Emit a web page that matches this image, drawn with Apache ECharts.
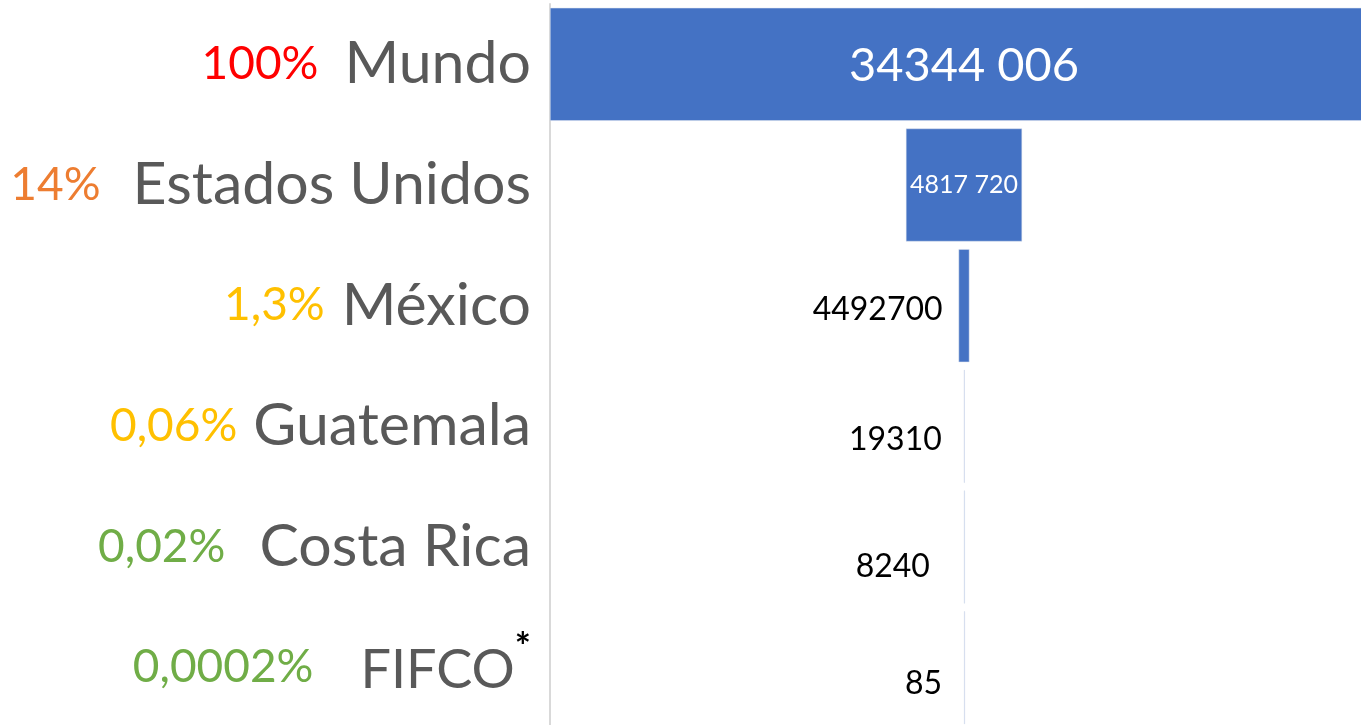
<!DOCTYPE html>
<html>
<head>
<meta charset="utf-8">
<script src="https://cdn.jsdelivr.net/npm/echarts@6/dist/echarts.min.js"></script>
<style>
  html, body { margin: 0; padding: 0; background: #fff; }
  #main { width: 1361px; height: 725px; }
</style>
</head>
<body>
<div id="main"></div>
<script>
// categorias y valores
var paises = ['Mundo', 'Estados Unidos', 'México', 'Guatemala', 'Costa Rica', 'FIFCO'];
var porcentajes = ['100%', '14%', '1,3%', '0,06%', '0,02%', '0,0002%'];
// valores de la barra (México se dibuja al 1,3%)
var valores = [34344006, 4817720, 449270, 19310, 8240, 85];
// texto de las etiquetas tal como aparece
var etiquetas = ['34344 006', '4817 720', '4492700', '19310', '8240', '85'];

var total = valores[0];
var colorPct = ['#ff0000', '#ed7d31', '#ffc000', '#ffc000', '#70ad47', '#70ad47'];
var espacio = [26, 32, 17, 16, 34, 47];
var despl = [0, 0, 4, 13, 20, 16];
var distancia = [0, 0, 16, 22, 34, 22];
var fuente = 'Lato, "Open Sans", sans-serif';

//estilos rich de la etiqueta del eje
var rich = {
  n: { fontSize: 59, color: '#595959', fontFamily: fuente },
  f: { fontSize: 54, color: '#595959', fontFamily: fuente, padding: [6, 0, 0, 0] },
  s: { fontSize: 38, color: '#000', fontFamily: fuente, fontWeight: 'bold', padding: [0, 0, 40, 0] }
};
colorPct.forEach(function (c, i) {
  rich['p' + i] = { fontSize: 46, color: c, fontFamily: fuente, padding: [0, espacio[i], 0, 0] };
});

//base invisible para centrar las barras
var base = valores.map(function (v) { return (total - v) / 2; });
var barras = valores.map(function (v, i) {
  var item = { value: v };
  if (i === 0) {
    item.label = { position: 'inside', fontSize: 47, color: '#fff', offset: [0, 2] };
  } else if (i === 1) {
    item.label = { position: 'inside', fontSize: 25, color: '#fff' };
  } else {
    item.label = { position: 'left', distance: distancia[i], fontSize: 32, color: '#000', offset: [0, despl[i]] };
  }
  return item;
});

var chart = echarts.init(document.getElementById('main'));
chart.setOption({
  backgroundColor: '#fff',
  animation: false,
  grid: { left: 550, width: 828, top: 4, bottom: -3, outerBoundsMode: 'none', containLabel: false },
  xAxis: {
    type: 'value',
    min: 0,
    max: total,
    show: false
  },
  yAxis: {
    type: 'category',
    inverse: true,
    data: paises,
    axisLine: { show: true, lineStyle: { color: '#d9d9d9', width: 2 } },
    axisTick: { show: false },
    axisLabel: {
      margin: 19,
      formatter: function (value, idx) {
        if (value === 'FIFCO') {
          return '{p' + idx + '|' + porcentajes[idx] + '}{f|' + value + '}{s|*}';
        }
        return '{p' + idx + '|' + porcentajes[idx] + '}{n|' + value + '}';
      },
      rich: rich
    }
  },
  series: [
    {
      type: 'bar',
      stack: 'embudo',
      data: base,
      itemStyle: { color: 'transparent' },
      barWidth: 113,
      silent: true
    },
    {
      type: 'bar',
      stack: 'embudo',
      data: barras,
      barWidth: 113,
      barMinHeight: 1,
      itemStyle: {
        color: function (p) { return p.value < 100000 ? '#9db3df' : '#4472c4'; },
        borderColor: '#dde3ee',
        borderWidth: 0.5
      },
      label: {
        show: true,
        fontFamily: fuente,
        formatter: function (p) { return etiquetas[p.dataIndex]; }
      }
    }
  ]
});
</script>
</body>
</html>
